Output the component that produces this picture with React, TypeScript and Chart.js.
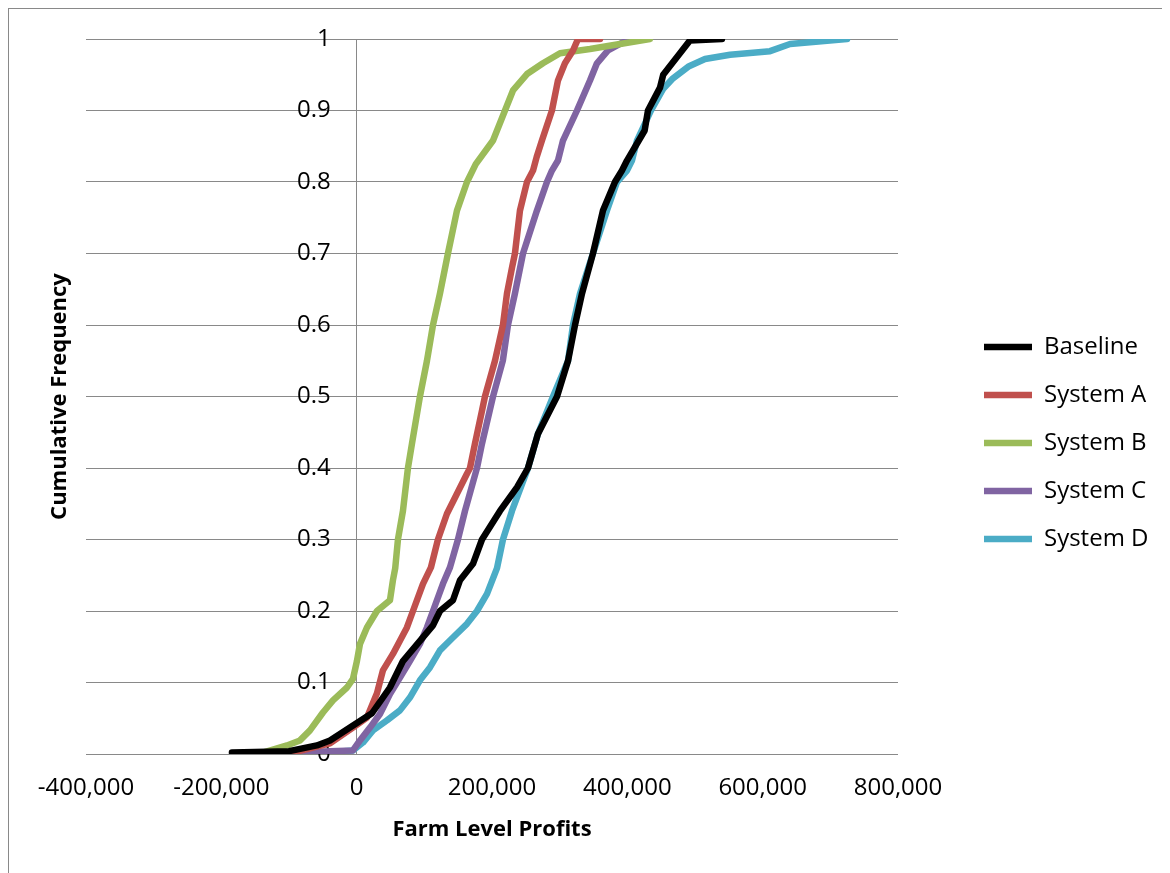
import React, { useEffect, useRef } from 'react';
import { Chart, registerables } from 'chart.js';

Chart.register(...registerables);

const seriesNames = ['Baseline', 'System A', 'System B', 'System C', 'System D'];
const seriesColors = ['#000000', '#C0504D', '#9BBB59', '#8064A2', '#4BACC6'];

const baselineProfit = [-184300, -100000, -58800, -39400, -9900, 22600, 49200, 68400, 112800, 123100, 142300, 152700, 171900, 185200, 211800, 236900, 253200, 268000, 296100, 312400, 322700, 333000, 349200, 364000, 381700, 392100, 399500, 425600, 430500, 448300, 453000, 477800, 492500, 539800];
const baselineFreq = [0.002, 0.004, 0.012, 0.019, 0.037, 0.057, 0.093, 0.13, 0.18, 0.2, 0.215, 0.243, 0.266, 0.3, 0.34, 0.373, 0.4, 0.448, 0.5, 0.55, 0.6, 0.644, 0.7, 0.76, 0.8, 0.816, 0.83, 0.872, 0.9, 0.932, 0.95, 0.98, 0.998, 1.0];

const systemAProfit = [-125000, -94100, -39400, -5500, 15200, 30000, 38800, 53600, 74300, 83200, 98000, 109800, 120100, 133400, 148200, 163000, 167500, 174800, 185200, 189600, 204400, 216200, 222100, 229500, 233900, 241300, 251700, 260600, 266000, 273800, 288600, 297500, 307800, 319700, 327100, 359600];
const systemAFreq = [0.001, 0.002, 0.015, 0.037, 0.051, 0.085, 0.117, 0.14, 0.177, 0.2, 0.238, 0.261, 0.3, 0.336, 0.364, 0.392, 0.4, 0.434, 0.48, 0.5, 0.55, 0.6, 0.644, 0.68, 0.7, 0.76, 0.8, 0.816, 0.835, 0.858, 0.9, 0.942, 0.966, 0.984, 1.0, 1.0];

const systemBProfit = [-138500, -103000, -83800, -69000, -49800, -35000, -14300, -5500, 400, 4900, 15200, 30000, 49200, 53600, 57000, 61000, 68400, 75800, 81700, 93500, 103900, 112800, 123100, 134900, 148200, 163000, 176000, 201500, 219200, 231000, 251700, 275300, 300500, 344800, 389100, 433400];
const systemBFreq = [0.002, 0.012, 0.019, 0.033, 0.058, 0.075, 0.093, 0.105, 0.13, 0.154, 0.177, 0.2, 0.215, 0.243, 0.26, 0.3, 0.34, 0.4, 0.434, 0.5, 0.55, 0.6, 0.644, 0.7, 0.76, 0.8, 0.825, 0.858, 0.9, 0.928, 0.951, 0.966, 0.98, 0.986, 0.993, 1.0];

const systemCProfit = [-95000, -5500, 4900, 19700, 34400, 49200, 64000, 78700, 93500, 103900, 112800, 127500, 137900, 149700, 160100, 177800, 185200, 201500, 216000, 223600, 233900, 245800, 266400, 281200, 288600, 297500, 304900, 325600, 344800, 355100, 371400, 389100, 403900];
const systemCFreq = [0.002, 0.005, 0.019, 0.037, 0.056, 0.084, 0.107, 0.13, 0.154, 0.177, 0.2, 0.238, 0.261, 0.3, 0.34, 0.4, 0.434, 0.5, 0.55, 0.6, 0.644, 0.7, 0.76, 0.8, 0.816, 0.83, 0.858, 0.9, 0.942, 0.966, 0.984, 0.993, 1.0];

const systemDProfit = [-40000, -5500, 9300, 24100, 44800, 64000, 78700, 93500, 108300, 123100, 142300, 163000, 177800, 192600, 207400, 216200, 229500, 253200, 268000, 290200, 312400, 319700, 330100, 349200, 369900, 384700, 399500, 406900, 414300, 435000, 452700, 467500, 491200, 514800, 551800, 610900, 640500, 724700];
const systemDFreq = [0.002, 0.005, 0.016, 0.033, 0.047, 0.061, 0.079, 0.103, 0.121, 0.145, 0.163, 0.182, 0.2, 0.224, 0.26, 0.3, 0.34, 0.4, 0.448, 0.5, 0.55, 0.6, 0.644, 0.7, 0.76, 0.8, 0.816, 0.83, 0.858, 0.9, 0.93, 0.945, 0.962, 0.972, 0.978, 0.983, 0.993, 1.0];

const profitSeries = [baselineProfit, systemAProfit, systemBProfit, systemCProfit, systemDProfit];
const freqSeries = [baselineFreq, systemAFreq, systemBFreq, systemCFreq, systemDFreq];

const xMin = -400000;
const xMax = 800000;
const xStep = 200000;
const yMin = 0;
const yMax = 1;
const yStep = 0.1;
const yAxisCrossing = 0;

const xTitle = 'Farm Level Profits';
const yTitle = 'Cumulative Frequency';

const FONT = "'Open Sans', 'Noto Sans', sans-serif";
const GRID = '#898989';
const W = 1158;
const H = 864;
const LEGEND_FONT = 24;
const LEGEND_PAD = 24;
const LEGEND_BOX = 48;
const LEGEND_LEFT = 951;
const LABEL_GAP_PX = 26;

export default function App() {
  const ref = useRef<HTMLCanvasElement>(null);

  useEffect(() => {
    document.body.style.overflow = 'hidden';
    const canvas = ref.current;
    if (!canvas) return;

    const mctx = document.createElement('canvas').getContext('2d')!;
    mctx.font = `normal ${LEGEND_FONT}px ${FONT}`;
    const maxText = Math.max(...seriesNames.map((n) => mctx.measureText(n).width));
    const legendW = LEGEND_PAD + LEGEND_BOX + LEGEND_FONT / 2 + maxText + 10;
    const padRight = Math.max(0, W - LEGEND_LEFT - legendW);

    const plotWidthPx = 812;
    const labelShift = (LABEL_GAP_PX / plotWidthPx) * (xMax - xMin);

    const datasets = seriesNames.map((name, i) => ({
      label: name,
      data: profitSeries[i].map((x, j) => ({ x, y: freqSeries[i][j] })),
      borderColor: seriesColors[i],
      backgroundColor: seriesColors[i],
      borderWidth: 6.5,
      borderCapStyle: 'round' as const,
      borderJoinStyle: 'round' as const,
      pointRadius: 0,
      pointHoverRadius: 0,
      tension: 0,
      xAxisID: 'x',
      yAxisID: 'y',
    }));

    const chart = new Chart(canvas, {
      type: 'line',
      data: { datasets },
      options: {
        animation: false,
        responsive: false,
        events: [],
        layout: { padding: { left: 0, top: 30, right: padRight, bottom: 26 } },
        plugins: {
          tooltip: { enabled: false },
          legend: {
            position: 'right',
            maxWidth: 400,
            labels: {
              usePointStyle: true,
              pointStyle: 'line',
              pointStyleWidth: LEGEND_BOX,
              padding: LEGEND_PAD,
              color: '#000',
              font: { family: FONT, size: LEGEND_FONT },
            },
          },
        },
        scales: {
          x: {
            type: 'linear',
            min: xMin,
            max: xMax,
            ticks: {
              stepSize: xStep,
              autoSkip: false,
              maxRotation: 0,
              padding: 20,
              color: '#000',
              font: { family: FONT, size: 24 },
              callback: (v: any) => Number(v).toLocaleString('en-US'),
            },
            grid: {
              display: true,
              drawTicks: false,
              tickLength: 0,
              lineWidth: 1,
              color: (c: any) => (c.tick && c.tick.value === yAxisCrossing ? GRID : 'rgba(0,0,0,0)'),
            },
            border: { display: false },
            title: {
              display: true,
              text: xTitle,
              color: '#000',
              font: { family: FONT, size: 22, weight: 'bold' },
              padding: { top: 0, bottom: 4 },
            },
            afterFit: (s: any) => { s.height = 93; },
          },
          y: {
            type: 'linear',
            position: { x: yAxisCrossing - labelShift } as any,
            min: yMin,
            max: yMax,
            ticks: {
              stepSize: yStep,
              autoSkip: false,
              padding: 0,
              color: '#000',
              font: { family: FONT, size: 24 },
              callback: (v: any) => String(Math.round(Number(v) * 10) / 10),
            },
            grid: { color: GRID, lineWidth: 1, drawTicks: false, tickLength: 0 },
            border: { display: false },
          },
          yTitle: {
            type: 'linear',
            position: 'left',
            min: yMin,
            max: yMax,
            ticks: { display: false },
            grid: { display: false, drawTicks: false },
            border: { display: false },
            title: {
              display: true,
              text: yTitle,
              color: '#000',
              font: { family: FONT, size: 22, weight: 'bold' },
              padding: { top: 38, bottom: 0 },
            },
            afterFit: (s: any) => { s.width = 77; },
          },
          yGap: {
            type: 'linear',
            position: 'right',
            min: yMin,
            max: yMax,
            ticks: { display: false },
            grid: { display: false, drawTicks: false },
            border: { display: false },
            afterFit: (s: any) => { s.width = 62; },
          },
        },
      } as any,
    });
    return () => chart.destroy();
  }, []);

  return (
    <div style={{ position: 'relative', width: W, height: 880, border: `1px solid ${GRID}`, background: '#fff' }}>
      <canvas ref={ref} width={W} height={H} style={{ display: 'block' }} />
    </div>
  );
}
